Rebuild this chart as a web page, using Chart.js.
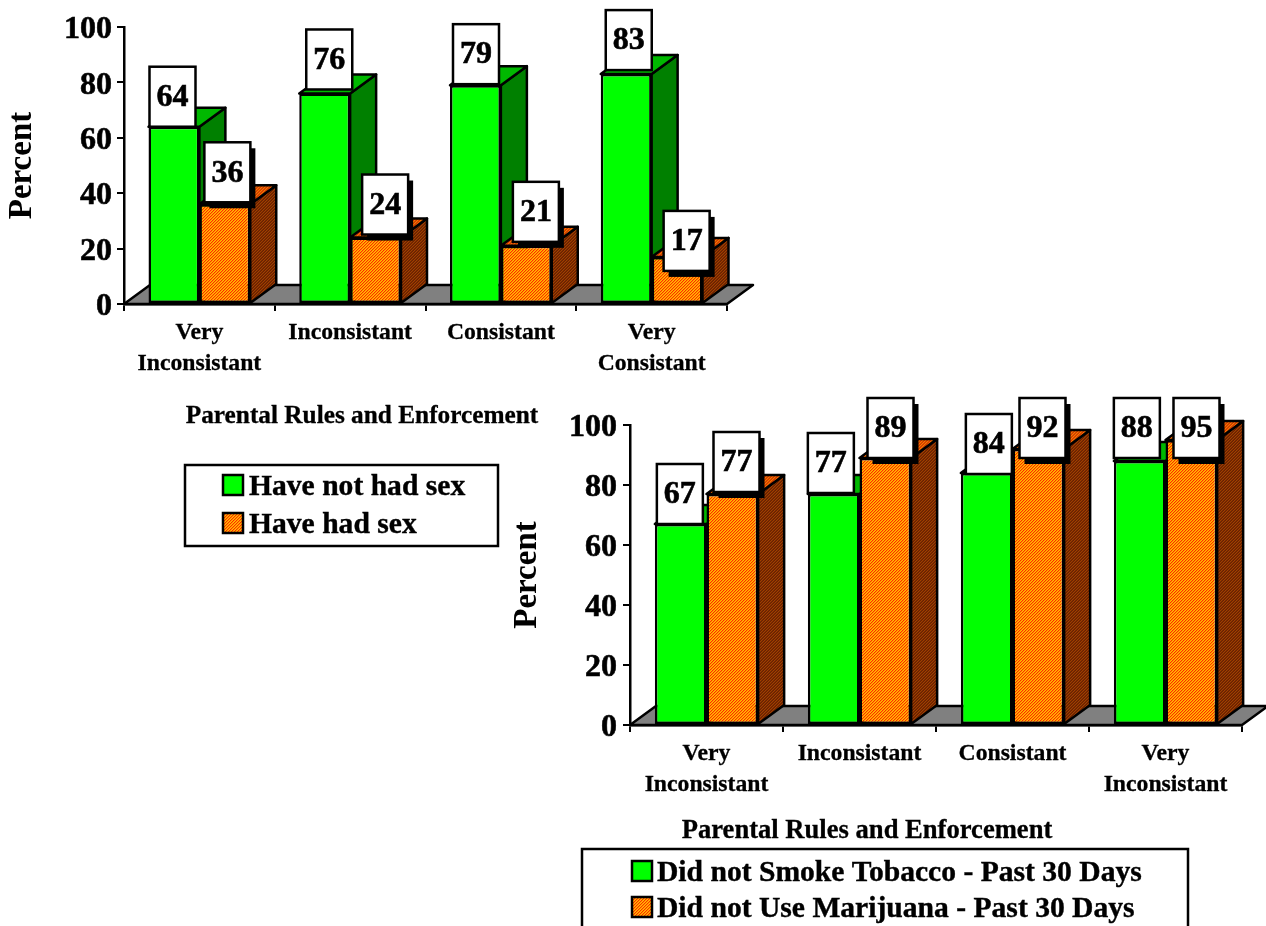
<!DOCTYPE html>
<html>
<head>
<meta charset="utf-8">
<style>
  html, body { margin: 0; padding: 0; background: #fff; overflow: hidden; }
  canvas { position: absolute; }
</style>
<script src="https://cdn.jsdelivr.net/npm/chart.js@4/dist/chart.umd.min.js"></script>
</head>
<body>
<canvas id="sexChart" style="left:0;top:0" width="800" height="560"></canvas>
<canvas id="substanceChart" style="left:500px;top:390px" width="766" height="536"></canvas>
<script>
const sexCategories = [['Very', 'Inconsistant'], 'Inconsistant', 'Consistant', ['Very', 'Consistant']];
const haveNotHadSex = [64, 76, 79, 83];
const haveHadSex = [36, 24, 21, 17];

const substanceCategories = [['Very', 'Inconsistant'], 'Inconsistant', 'Consistant', ['Very', 'Inconsistant']];
const noTobacco = [67, 77, 84, 88];
const noMarijuana = [77, 89, 92, 95];

const yTicks = [0, 20, 40, 60, 80, 100];

const FONT = '"Liberation Serif", "Times New Roman", serif';
const DEPTH_X = 26;
const DEPTH_Y = 19;

function hatch (colors) {
  const c = document.createElement('canvas');
  c.width = c.height = colors.length;
  const g = c.getContext('2d');
  for (let x = 0; x < colors.length; x++) {
    for (let y = 0; y < colors.length; y++) {
      g.fillStyle = colors[(x + y) % colors.length];
      g.fillRect(x, y, 1, 1);
    }
  }
  return g.createPattern(c, 'repeat');
}

const orangeFront = hatch(['#ff2800', '#ff8c00', '#ffc000']);
const orangeSide = hatch(['#6a2000', '#a04000', '#7a2c00']);
const orangeTop = hatch(['#e03000', '#ff7000', '#c06000']);
const faces = [
  { side: '#008000', top: '#00b800' },
  { side: orangeSide, top: orangeTop }
];

function poly (ctx, pts, fill) {
  ctx.beginPath();
  pts.forEach((p, i) => i ? ctx.lineTo(p[0], p[1]) : ctx.moveTo(p[0], p[1]));
  ctx.closePath();
  ctx.fillStyle = fill;
  ctx.fill();
  ctx.stroke();
}

function boldText (ctx, text, x, y, w) {
  ctx.lineWidth = w;
  ctx.strokeStyle = '#000';
  ctx.fillStyle = '#000';
  ctx.fillText(text, x, y);
  ctx.strokeText(text, x, y);
}

const box3d = {
  id: 'box3d',
  beforeDraw (chart) {
    // digits sit a little high with a middle baseline
    chart.scales.y.getLabelItems().forEach(it => { it.options.translation[1] += 3; });
  },
  beforeDatasetsDraw (chart) {
    const ctx = chart.ctx;
    const a = chart.chartArea;
    ctx.save();
    ctx.strokeStyle = '#000';
    ctx.lineWidth = 2.5;
    ctx.lineJoin = 'round';
    // floor
    poly(ctx, [
      [a.left, a.bottom],
      [a.left + DEPTH_X, a.bottom - DEPTH_Y],
      [a.right + DEPTH_X, a.bottom - DEPTH_Y],
      [a.right, a.bottom]
    ], '#808080');
    chart.data.datasets.forEach((ds, d) => {
      chart.getDatasetMeta(d).data.forEach(el => {
        const l = el.x - el.width / 2;
        const r = el.x + el.width / 2;
        poly(ctx, [[r, el.y], [r + DEPTH_X, el.y - DEPTH_Y], [r + DEPTH_X, el.base - DEPTH_Y], [r, el.base]], faces[d].side);
        poly(ctx, [[l, el.y], [l + DEPTH_X, el.y - DEPTH_Y], [r + DEPTH_X, el.y - DEPTH_Y], [r, el.y]], faces[d].top);
      });
    });
    ctx.restore();
  },
  afterDatasetsDraw (chart, args, opts) {
    const ctx = chart.ctx;
    ctx.save();
    chart.data.datasets.forEach((ds, d) => {
      chart.getDatasetMeta(d).data.forEach((el, i) => {
        const nudge = opts.nudges[d][i];
        const x = el.x - el.width / 2 + nudge[0];
        const y = el.y + nudge[1] - 60;
        if (d === 1) {
          ctx.fillStyle = '#000';
          ctx.fillRect(x + 5, y + 6, 46, 60);
        }
        ctx.fillStyle = '#fff';
        ctx.strokeStyle = '#000';
        ctx.lineWidth = 2.5;
        ctx.fillRect(x, y, 46, 60);
        ctx.strokeRect(x, y, 46, 60);
        ctx.font = 'bold 32px ' + FONT;
        ctx.textAlign = 'center';
        ctx.textBaseline = 'middle';
        boldText(ctx, ds.data[i], x + 23, y + 31, 0.6);
      });
    });
    ctx.restore();
  }
};

const extras = {
  id: 'extras',
  afterDraw (chart, args, opts) {
    const ctx = chart.ctx;
    ctx.save();
    ctx.textBaseline = 'middle';
    // x axis title sits off centre in the original
    ctx.font = 'bold ' + opts.xTitleSize + 'px ' + FONT;
    ctx.textAlign = 'center';
    boldText(ctx, opts.xTitle, opts.xTitleAt[0], opts.xTitleAt[1], 0.3);
    // legend box
    const b = opts.legend;
    ctx.strokeStyle = '#000';
    ctx.lineWidth = 2.5;
    ctx.strokeRect(b.x, b.y, b.w, b.h);
    ctx.textAlign = 'left';
    ctx.font = 'bold 29.6px ' + FONT;
    chart.data.datasets.forEach((ds, d) => {
      const rowY = b.rows[d];
      ctx.fillStyle = ds.backgroundColor;
      ctx.strokeStyle = '#000';
      ctx.lineWidth = 2.5;
      ctx.fillRect(b.swatchX, rowY - 10, 20, 20);
      ctx.strokeRect(b.swatchX, rowY - 10, 20, 20);
      boldText(ctx, ds.label, b.textX, rowY + 2, 0.4);
    });
    ctx.restore();
  }
};

function makeChart (id, cfg) {
  new Chart(document.getElementById(id), {
    type: 'bar',
    data: {
      labels: cfg.categories,
      datasets: [
        { label: cfg.names[0], data: cfg.first, backgroundColor: '#00ff00' },
        { label: cfg.names[1], data: cfg.second, backgroundColor: orangeFront }
      ]
    },
    options: {
      responsive: false,
      animation: false,
      layout: { padding: cfg.padding },
      datasets: {
        bar: {
          barPercentage: 1,
          categoryPercentage: 0.675,
          borderColor: '#000',
          borderWidth: 2.5,
          borderSkipped: false
        }
      },
      plugins: {
        legend: { display: false },
        tooltip: { enabled: false },
        box3d: { nudges: cfg.nudges },
        extras: { xTitle: 'Parental Rules and Enforcement', xTitleAt: cfg.xTitleAt, xTitleSize: cfg.xTitleSize, legend: cfg.legend }
      },
      scales: {
        x: {
          afterFit (s) { s.height = cfg.xAxisH; },
          grid: { offset: true, drawOnChartArea: false, color: '#000', lineWidth: 2, tickLength: 7 },
          border: { color: '#000', width: 2.5 },
          ticks: {
            color: '#000',
            maxRotation: 0,
            autoSkip: false,
            padding: 6,
            textStrokeColor: '#000',
            textStrokeWidth: 0.3,
            font: { family: FONT, weight: 'bold', size: 23.7, lineHeight: 1.31 }
          }
        },
        y: {
          min: 0,
          max: 100,
          afterFit (s) { s.width = cfg.axisLeft; },
          afterBuildTicks (s) { s.ticks = yTicks.map(v => ({ value: v })); },
          grid: { drawOnChartArea: false, color: '#000', lineWidth: 2, tickLength: 7 },
          border: { color: '#000', width: 2.5 },
          title: {
            display: true,
            text: 'Percent',
            color: '#000',
            padding: { top: cfg.titlePad, bottom: 0 },
            font: { family: FONT, weight: 'bold', size: 33 }
          },
          ticks: {
            color: '#000',
            padding: cfg.tickPad,
            textStrokeColor: '#000',
            textStrokeWidth: 0.6,
            font: { family: FONT, weight: 'bold', size: 32 }
          }
        }
      }
    },
    plugins: [box3d, extras]
  });
}

makeChart('sexChart', {
  categories: sexCategories,
  first: haveNotHadSex,
  second: haveHadSex,
  names: ['Have not had sex', 'Have had sex'],
  axisLeft: 124,
  xAxisH: 157,
  titlePad: 3,
  tickPad: 5,
  padding: { top: 27, right: 73, bottom: 99, left: 0 },
  xTitleAt: [362, 416],
  xTitleSize: 25.3,
  nudges: [
    [[1, 0], [7, -4], [3, -1], [5, -4]],
    [[5, -2], [12, -3], [12, -4], [12, 14]]
  ],
  legend: { x: 185, y: 465, w: 313, h: 81, rows: [485, 523], swatchX: 223, textX: 249 }
});

makeChart('substanceChart', {
  categories: substanceCategories,
  first: noTobacco,
  second: noMarijuana,
  names: ['Did not Smoke Tobacco - Past 30 Days', 'Did not Use Marijuana - Past 30 Days'],
  axisLeft: 130,
  xAxisH: 150,
  titlePad: 8,
  tickPad: 6,
  padding: { top: 35, right: 24, bottom: 51, left: 0 },
  xTitleAt: [367, 441],
  xTitleSize: 26.6,
  nudges: [
    [[2, 0], [0, -1], [5, 1], [0, -3]],
    [[7, -2], [8, 0], [7, 9], [8, 18]]
  ],
  legend: { x: 82, y: 459, w: 606, h: 100, rows: [481, 517], swatchX: 132, textX: 157 }
});
</script>
</body>
</html>
